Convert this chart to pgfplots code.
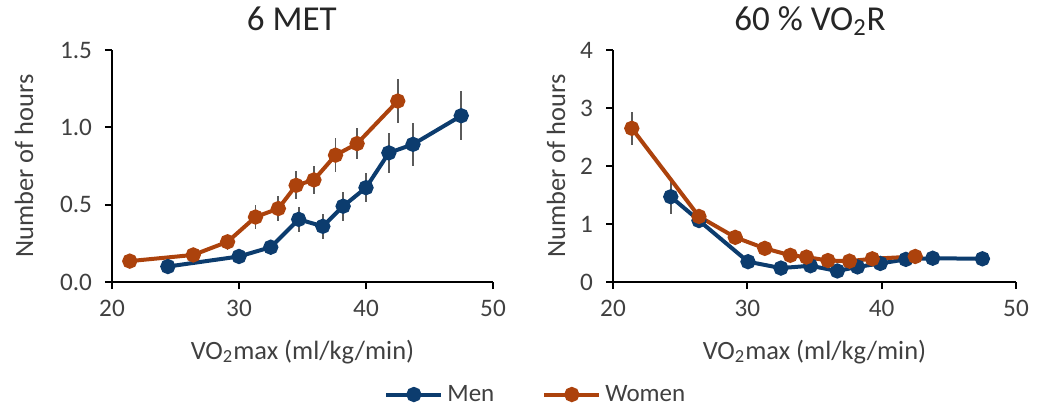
\documentclass[border=0pt]{standalone}
\usepackage{pgfplots}
\pgfplotsset{compat=1.18}
\usepackage{fontspec}
\setmainfont{Carlito}
\definecolor{men}{RGB}{12,60,110}
\definecolor{women}{RGB}{172,66,12}
\definecolor{txt}{RGB}{64,64,64}
\definecolor{ebar}{RGB}{90,90,90}
\pgfplotsset{
  common/.style={
    scale only axis,
    width=190.5pt, height=116pt,
    xmin=20, xmax=50, xtick={20,30,40,50},
    axis x line=bottom, axis y line=left,
    axis line style={-, black, line width=0.9pt},
    tick align=outside,
    major tick length=3.5pt,
    tick style={black, line width=0.9pt},
    ticklabel style={font=\fontsize{12.6}{14}\selectfont, text=txt},
    /pgf/number format/assume math mode=true,
    xticklabel style={yshift=-2pt},
    yticklabel style={xshift=-3pt},
    clip=false,
    title style={font=\fontsize{17.5}{21}\selectfont, text=black!85},
    xlabel style={font=\fontsize{13.2}{15}\selectfont, text=txt},
    ylabel style={font=\fontsize{13.2}{15}\selectfont, text=txt},
    xlabel={VO\textsubscript{2}max (ml/kg/min)},
    ylabel={Number of hours},
  },
  menplot/.style={color=men, line width=2pt, mark=*, mark size=2.8pt,
    mark options={fill=men, draw=men},
    error bars/.cd, y dir=both, y explicit,
    error bar style={color=ebar, line width=0.9pt}, error mark=none},
  womenplot/.style={color=women, line width=2pt, mark=*, mark size=2.8pt,
    mark options={fill=women, draw=women},
    error bars/.cd, y dir=both, y explicit,
    error bar style={color=ebar, line width=0.9pt}, error mark=none},
}
\begin{document}
\begin{tikzpicture}
\path[use as bounding box] (0,0) rectangle (524.5pt,203.5pt);
% left panel
\begin{axis}[common,
  at={(56pt,62.5pt)}, anchor=south west,
  ymin=0, ymax=1.5, ytick={0,0.5,1,1.5},
  yticklabel style={/pgf/number format/.cd, fixed, fixed zerofill, precision=1},
  title={6 MET},
  title style={at={(rel axis cs:0.472,1.06)}, anchor=base, yshift=-3pt},
  xlabel style={at={(rel axis cs:0.5,-0.332)}, anchor=base},
  ylabel style={at={(rel axis cs:-0.207,0.5)}, anchor=base},
  legend columns=2,
  legend style={at={(rel axis cs:1.115,-0.485)}, anchor=center, draw=none, fill=none,
    font=\fontsize{12.5}{14}\selectfont, text=txt,
    /tikz/every even column/.append style={column sep=22pt}},
  legend cell align=left,
  legend image code/.code={\draw[mark repeat=2,mark phase=2] plot coordinates {(0pt,0pt) (13.75pt,0pt) (27.5pt,0pt)};},
]
\addplot[menplot] table[x=x, y=y, y error=e] {
x y e
24.4 0.10 0.02
30.0 0.165 0.05
32.5 0.225 0.03
34.7 0.405 0.08
36.6 0.36 0.08
38.2 0.49 0.095
40.0 0.61 0.095
41.8 0.835 0.13
43.7 0.89 0.14
47.5 1.075 0.16
};
\addlegendentry{Men}
\addplot[womenplot] table[x=x, y=y, y error=e] {
x y e
21.4 0.135 0.02
26.4 0.175 0.03
29.1 0.26 0.05
31.3 0.42 0.08
33.1 0.475 0.08
34.5 0.625 0.09
35.9 0.66 0.09
37.6 0.82 0.11
39.3 0.895 0.10
42.5 1.17 0.14
};
\addlegendentry{Women}
\end{axis}
% right panel
\begin{axis}[common,
  width=201.5pt,
  at={(306.5pt,62.5pt)}, anchor=south west,
  ymin=0, ymax=4, ytick={0,1,2,3,4},
  title={60 \% VO\textsubscript{2}R},
  title style={at={(rel axis cs:0.489,1.06)}, anchor=base, yshift=-3pt},
  xlabel style={at={(rel axis cs:0.5,-0.332)}, anchor=base},
  ylabel style={at={(rel axis cs:-0.119,0.5)}, anchor=base},
]
\addplot[menplot] table[x=x, y=y, y error=e] {
x y e
24.3 1.47 0.30
26.4 1.06 0.05
30.05 0.35 0.05
32.5 0.24 0.04
34.7 0.28 0.04
36.7 0.19 0.04
38.2 0.26 0.04
39.9 0.32 0.04
41.8 0.39 0.04
43.8 0.41 0.04
47.5 0.40 0.04
};
\addplot[womenplot] table[x=x, y=y, y error=e] {
x y e
21.4 2.65 0.28
26.4 1.13 0.10
29.1 0.77 0.05
31.3 0.58 0.05
33.2 0.46 0.05
34.4 0.43 0.05
36.0 0.37 0.05
37.6 0.36 0.05
39.3 0.40 0.05
42.5 0.44 0.05
};
\end{axis}
\end{tikzpicture}
\end{document}
